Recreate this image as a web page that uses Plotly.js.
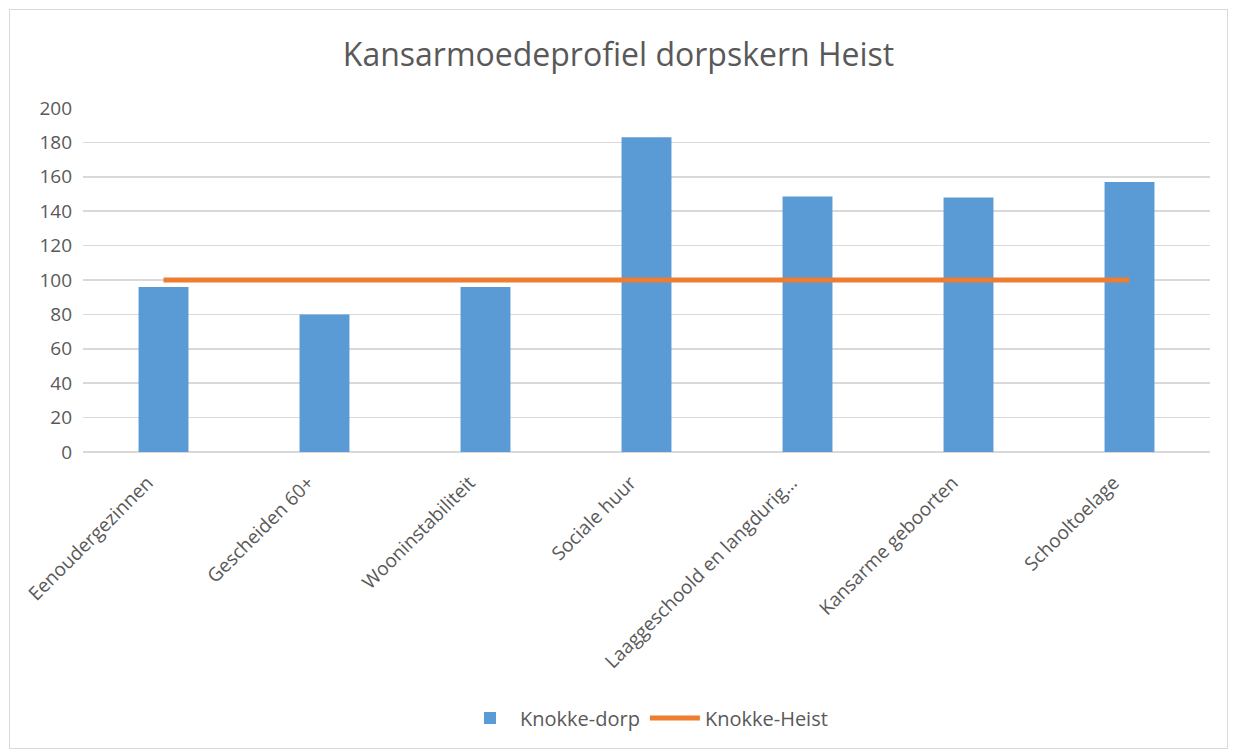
<!DOCTYPE html>
<html>
<head>
<meta charset="utf-8">
<script src="https://cdn.plot.ly/plotly-3.0.1.min.js"></script>
<style>
html,body{margin:0;padding:0;background:#fff;}
#frame{position:absolute;left:9px;top:9px;width:1219px;height:740px;border:1px solid #d9d9d9;box-sizing:border-box;}
#chart{position:absolute;left:0;top:0;width:1237px;height:751px;}
</style>
</head>
<body>
<div id="frame"></div>
<div id="chart"></div>
<script>
const categories = ["Eenoudergezinnen","Gescheiden 60+","Wooninstabiliteit","Sociale huur","Laaggeschoold en langdurig…","Kansarme geboorten","Schooltoelage"];
const knokkeDorp = [96, 80, 96, 183, 148.5, 148, 157];
const knokkeHeist = [100, 100, 100, 100, 100, 100, 100];
const yTicks = [0,20,40,60,80,100,120,140,160,180,200];

const fontFam = "'Open Sans', 'Noto Sans', sans-serif";
const grey = "#595959";

const traces = [
  {type:"bar", name:"Knokke-dorp", x:categories, y:knokkeDorp,
   marker:{color:"#5B9BD5"}, width:0.31},
  {type:"scatter", mode:"lines", name:"Knokke-Heist", x:categories, y:knokkeHeist,
   line:{color:"#ED7D31", width:5}}
];

const layout = {
  width:1237, height:751,
  paper_bgcolor:"rgba(0,0,0,0)", plot_bgcolor:"rgba(0,0,0,0)",
  margin:{l:83, r:27, t:108, b:299},
  title:{text:"Kansarmoedeprofiel dorpskern Heist", x:0.5, xanchor:"center", y:0.927, yanchor:"middle",
         font:{family:fontFam, size:32, color:grey}},
  font:{family:fontFam, color:grey},
  showlegend:true,
  legend:{orientation:"h", x:0.5, xanchor:"center", y:-0.773, yanchor:"middle",
          itemwidth:50, font:{family:fontFam, size:20, color:grey}},
  xaxis:{tickangle:-45, tickfont:{family:fontFam, size:19, color:grey},
         ticklabelstandoff:15, ticklabelshift:-16,
         showgrid:false, showline:false, ticks:"", automargin:false},
  yaxis:{range:[0,200], tickvals:yTicks, ticktext:yTicks.map(String),
         tickfont:{family:fontFam, size:19, color:grey},
         gridcolor:"#d9d9d9", gridwidth:1.5, zeroline:true, zerolinecolor:"#d9d9d9", zerolinewidth:1.5,
         showline:false, ticks:"", ticklabelstandoff:10, automargin:false}
};

Plotly.newPlot("chart", traces, layout, {displayModeBar:false, staticPlot:true});
</script>
</body>
</html>
